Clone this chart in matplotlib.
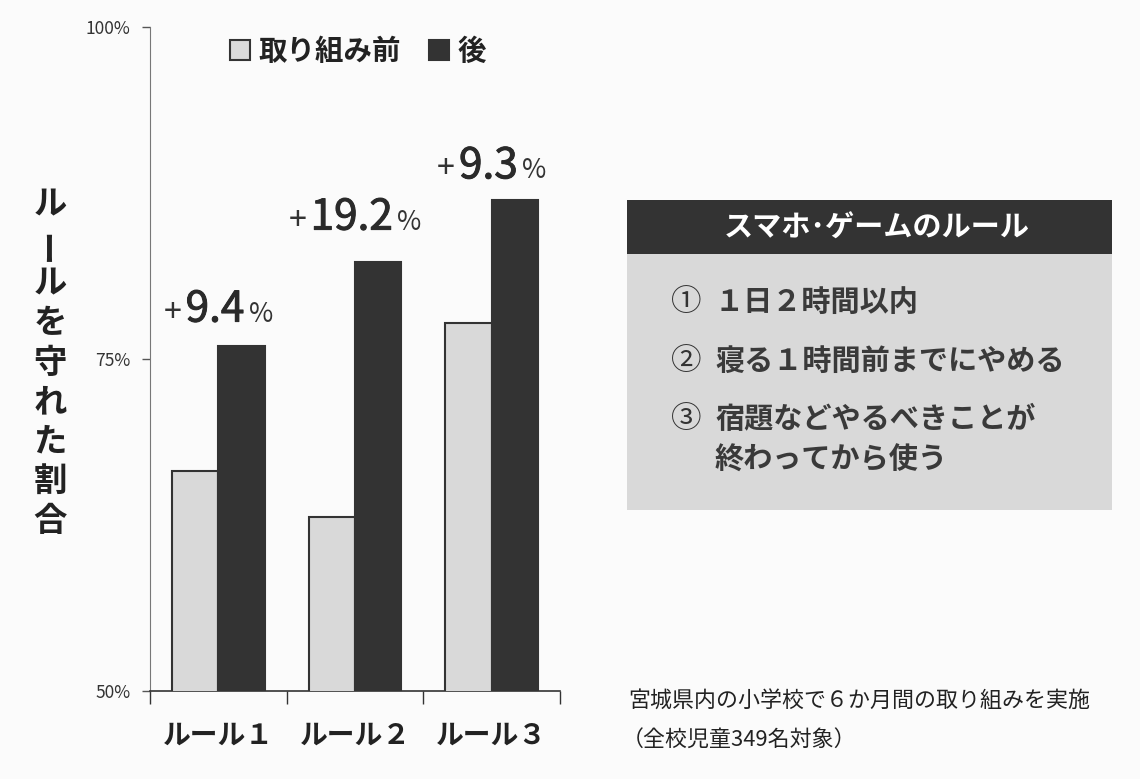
import matplotlib
matplotlib.use("Agg")
import matplotlib.pyplot as plt
import matplotlib.patheffects as pe
from matplotlib.patches import Patch, Rectangle
from matplotlib.offsetbox import TextArea, HPacker, AnnotationBbox

plt.rcParams['font.family'] = ['Noto Sans CJK JP', 'DejaVu Sans']

rules = ["ルール１", "ルール２", "ルール３"]
before = [66.6, 63.1, 77.7]
after = [76.0, 82.3, 87.0]
gains = ["9.4", "19.2", "9.3"]
gain_dy = [26, 32, 24]  # points above the "after" bar
series_names = ["取り組み前", "後"]
ylabel_chars = list("ルールを守れた割合")
box_title = "スマホ･ゲームのルール"
box_items = [("①", "１日２時間以内"), ("②", "寝る１時間前までにやめる"),
             ("③", "宿題などやるべきことが\n終わってから使う")]
note = ["宮城県内の小学校で６か月間の取り組みを実施", "（全校児童349名対象）"]

dark = "#333333"
light = "#d9d9d9"
bg = "#fbfbfb"

fig = plt.figure(figsize=(11.4, 7.79), dpi=100, facecolor=bg)
ax = fig.add_axes([150 / 1140, 1 - 691 / 779, 410 / 1140, 664 / 779])
ax.set_facecolor(bg)

x = range(len(rules))
w = 0.34
ax.bar([i - w / 2 for i in x], before, w, color=light, edgecolor=dark, linewidth=1.5, zorder=3)
ax.bar([i + w / 2 for i in x], after, w, color=dark, edgecolor=dark, linewidth=1.5, zorder=3)

ax.set_xlim(-0.5, 2.5)
ax.set_ylim(50, 100)
ax.set_yticks([50, 75, 100])
ax.set_yticklabels(["50%", "75%", "100%"], fontsize=12.5, color="#333333")
ax.tick_params(axis="y", direction="out", length=6, width=1, color="#555555", pad=8)
ax.set_xticks([-0.5, 0.5, 1.5, 2.5])
ax.set_xticklabels([])
ax.tick_params(axis="x", which="major", direction="out", length=9, width=1, color="#333333")
ax.set_xticks(list(x), minor=True)
ax.set_xticklabels(rules, minor=True, fontsize=20, fontweight="bold", color="#222222")
ax.tick_params(axis="x", which="minor", length=0, pad=22)
for s in ["top", "right"]:
    ax.spines[s].set_visible(False)
ax.spines["left"].set_color("#777777")
ax.spines["bottom"].set_color("#333333")
ax.spines["bottom"].set_linewidth(1.2)

# gain labels
thick = [pe.withStroke(linewidth=0.7, foreground="#2a2a2a")]
for i, g in enumerate(gains):
    parts = [TextArea("+", textprops=dict(size=23, color=dark)),
             TextArea(g, textprops=dict(size=30.5, color="#2a2a2a", path_effects=thick)),
             TextArea("%", textprops=dict(size=19, color=dark))]
    box = HPacker(children=parts, align="baseline", pad=0, sep=3)
    ab = AnnotationBbox(box, (i, after[i]), xybox=(0, gain_dy[i]), xycoords="data",
                        boxcoords="offset points", frameon=False, box_alignment=(0.5, 0.5))
    ax.add_artist(ab)

handles = [Patch(facecolor=light, edgecolor=dark, linewidth=1.5),
           Patch(facecolor=dark, edgecolor=dark, linewidth=1.5)]
ax.legend(handles, series_names, loc="center", bbox_to_anchor=(0.507, 0.962), ncol=2, frameon=False,
          prop=dict(size=20.5, weight="bold"), handlelength=0.7, handleheight=0.7,
          handletextpad=0.3, columnspacing=1.0, labelcolor="#222222")

# vertical y label
for k, ch in enumerate(ylabel_chars):
    rot = 90 if ch == "ー" else 0
    fig.text(50 / 1140, 1 - (205 + k * 39.5) / 779, ch, fontsize=24, fontweight="bold",
             ha="center", va="center", rotation=rot, color="#222222")

# rules box
fig.patches.append(Rectangle((627 / 1140, 1 - 510 / 779), 485 / 1140, 256 / 779,
                             transform=fig.transFigure, facecolor=light, edgecolor="none"))
fig.patches.append(Rectangle((627 / 1140, 1 - 254 / 779), 485 / 1140, 54 / 779,
                             transform=fig.transFigure, facecolor=dark, edgecolor="none"))
fig.text(877 / 1140, 1 - 228 / 779, box_title, fontsize=21, fontweight="bold", color="white",
         ha="center", va="center")
item_y = [303, 362, 420]
for (num, txt), yy in zip(box_items, item_y):
    fig.text(686 / 1140, 1 - yy / 779, num, fontsize=22, color="#333333", ha="center", va="center")
    fig.text(715 / 1140, 1 - (yy - 16) / 779, txt, fontsize=21, fontweight="bold", color="#3a3a3a",
             ha="left", va="top", linespacing=1.45)

fig.text(628 / 1140, 1 - 702 / 779, note[0], fontsize=15.8, color="#222222", ha="left", va="center")
fig.text(622 / 1140, 1 - 740 / 779, note[1], fontsize=15.8, color="#222222", ha="left", va="center")

fig.savefig("out.png", dpi=100, facecolor=bg)
